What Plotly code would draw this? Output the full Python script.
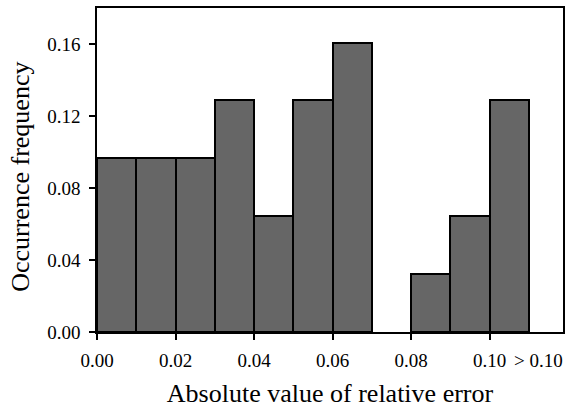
import plotly.graph_objects as go

# Data
bin_starts = [0.00, 0.01, 0.02, 0.03, 0.04, 0.05, 0.06, 0.07, 0.08, 0.09, 0.10]
frequency = [0.0968, 0.0968, 0.0968, 0.129, 0.0645, 0.129, 0.161, 0.0, 0.0323, 0.0645, 0.129]
bin_width = 0.01
x_tick_vals = [0.00, 0.02, 0.04, 0.06, 0.08, 0.10]
x_tick_text = ["0.00", "0.02", "0.04", "0.06", "0.08", "0.10"]
y_tick_vals = [0.00, 0.04, 0.08, 0.12, 0.16]
y_tick_text = ["0.00", "0.04", "0.08", "0.12", "0.16"]
overflow_label = "> 0.10"
overflow_pos = 0.1125
x_title = "Absolute value of relative error"
y_title = "Occurrence frequency"

FONT = "Liberation Serif, Times New Roman, serif"

fig = go.Figure()
fig.add_trace(go.Bar(
    x=[b + bin_width / 2 for b in bin_starts],
    y=frequency,
    width=bin_width,
    marker=dict(color="#666666",
                line=dict(color="black", width=[0 if v == 0 else 2 for v in frequency])),
))

fig.add_annotation(
    x=overflow_pos, y=0, xref="x", yref="paper",
    text=overflow_label, showarrow=False,
    yanchor="top", yshift=-16,
    font=dict(family=FONT, size=19, color="black"),
)

fig.add_annotation(
    x=0, xref="paper", xshift=-76, xanchor="center",
    y=0.479, yref="paper", yanchor="middle",
    text=y_title, textangle=-90, showarrow=False,
    font=dict(family=FONT, size=26, color="black"),
)

fig.update_layout(
    width=574, height=409,
    margin=dict(l=97, r=11, t=6, b=77),
    plot_bgcolor="white", paper_bgcolor="white",
    showlegend=False,
    bargap=0,
    font=dict(family=FONT, size=19, color="black"),
    xaxis=dict(
        range=[0, 0.1187],
        tickvals=x_tick_vals, ticktext=x_tick_text,
        ticks="outside", ticklen=6, tickwidth=1.5, tickcolor="black",
        ticklabelstandoff=4,
        showline=True, linecolor="black", linewidth=1.5, mirror=True,
        showgrid=False, zeroline=False,
        title=dict(text=x_title, font=dict(family=FONT, size=26), standoff=14),
    ),
    yaxis=dict(
        range=[0, 0.1802],
        tickvals=y_tick_vals, ticktext=y_tick_text,
        ticks="outside", ticklen=6, tickwidth=1.5, tickcolor="black",
        ticklabelstandoff=5,
        showline=True, linecolor="black", linewidth=1.5, mirror=True,
        showgrid=False, zeroline=False,
    ),
)

fig.write_html("out.html")
